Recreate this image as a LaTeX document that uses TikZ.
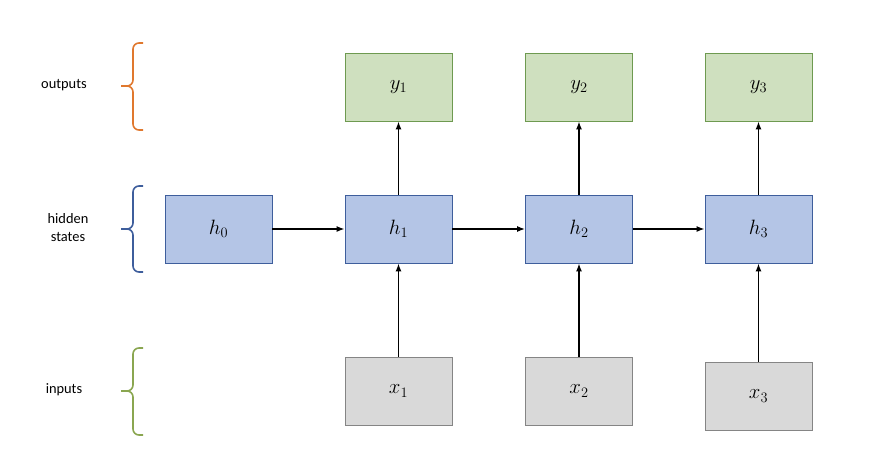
\documentclass[tikz,border=0pt]{standalone}
\usepackage{fontspec}
\setmainfont{Carlito}
\usetikzlibrary{arrows.meta}
\begin{document}
\begin{tikzpicture}[x=1pt,y=-1pt,
 box/.style={draw,line width=0.9pt,minimum width=107pt,minimum height=68pt,inner sep=0pt,font=\huge},
 hb/.style={box,fill=hfill,draw=hdraw},
 yb/.style={box,fill=yfill,draw=ydraw},
 xb/.style={box,fill=xfill,draw=xdraw},
 arr/.style={-{Latex[length=8pt,width=6pt]},line width=1.3pt},
 lab/.style={font=\Large,align=center},
 br/.style={line width=1.6pt,rounded corners=6pt}]
\definecolor{hfill}{HTML}{B4C5E6}\definecolor{hdraw}{HTML}{3E5E9C}
\definecolor{yfill}{HTML}{CFE0BF}\definecolor{ydraw}{HTML}{6E9A50}
\definecolor{xfill}{HTML}{D9D9D9}\definecolor{xdraw}{HTML}{858585}
\definecolor{ob}{HTML}{E0782E}\definecolor{bb}{HTML}{3E5E9C}\definecolor{gb}{HTML}{8AA650}
\useasboundingbox (0,0) rectangle (869,448);
\node[hb] (h0) at (218.5,229) {$h_0$};
\node[hb] (h1) at (398.5,229) {$h_1$};
\node[hb] (h2) at (579,229) {$h_2$};
\node[hb] (h3) at (758.5,229) {$h_3$};
\node[yb] (y1) at (398.5,87) {$y_1$};
\node[yb] (y2) at (579,87) {$y_2$};
\node[yb] (y3) at (758.5,87) {$y_3$};
\node[xb] (x1) at (398.5,391) {$x_1$};
\node[xb] (x2) at (579,391) {$x_2$};
\node[xb] (x3) at (758.5,396) {$x_3$};
\draw[arr] (h0) -- (h1); \draw[arr] (h1) -- (h2); \draw[arr] (h2) -- (h3);
\foreach \i in {1,2,3}{\draw[arr] (h\i) -- (y\i); \draw[arr] (x\i) -- (h\i);}
\node[lab] (lo) at (64,85) {outputs};
\node[lab] (lh) at (68,228) {hidden\\states};
\node[lab] (li) at (64,390) {inputs};
\foreach \c/\t/\b/\m in {ob/43/130/86,bb/186/272/229,gb/348/435/391}{
 \draw[\c,br] (143,\t) -- (133,\t) -- (133,\m) -- (121,\m);
 \draw[\c,br] (143,\b) -- (133,\b) -- (133,\m) -- (121,\m);}
\end{tikzpicture}
\end{document}
